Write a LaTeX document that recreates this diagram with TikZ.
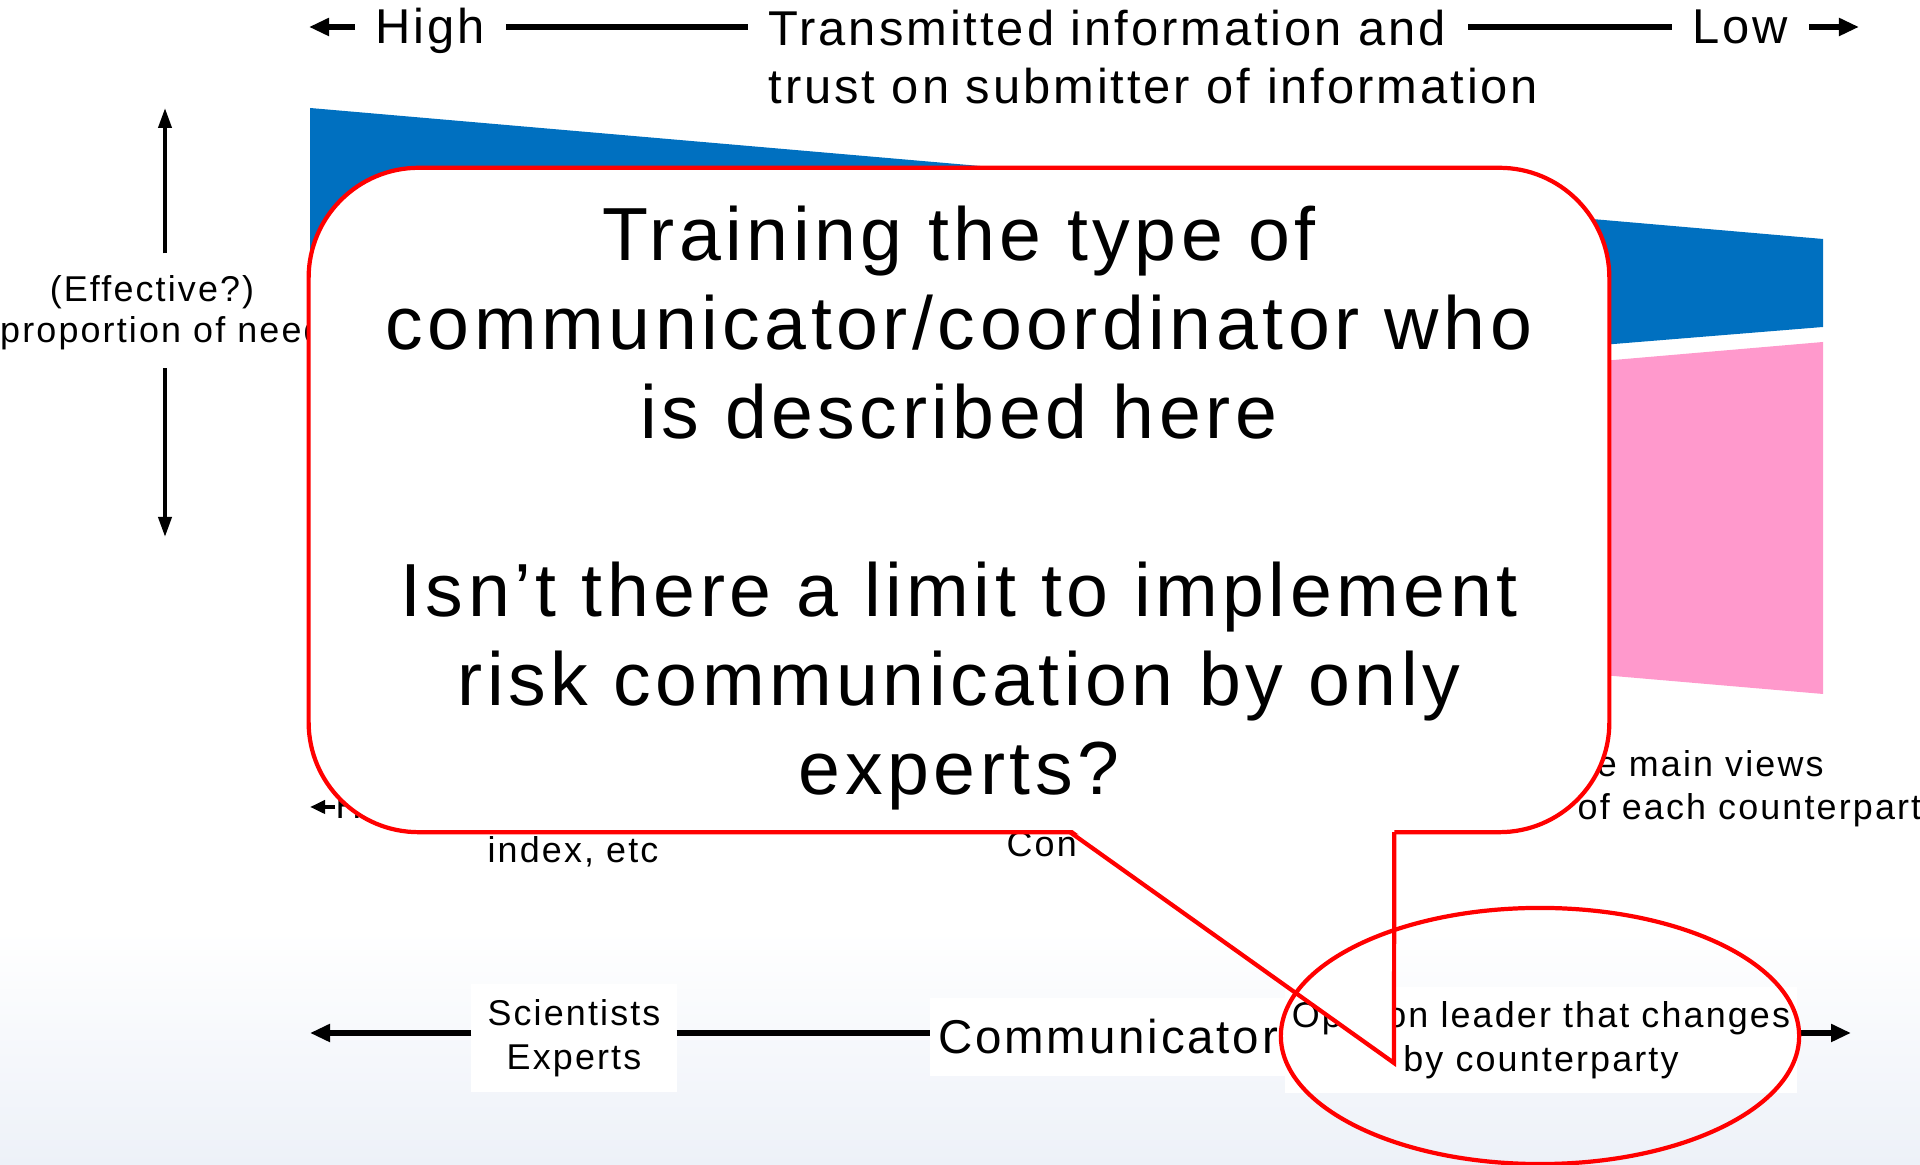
\documentclass[tikz,border=0pt]{standalone}
\usepackage{fontspec}
\setmainfont{Liberation Sans}[LetterSpace=6]
\usetikzlibrary{arrows.meta,shapes.geometric}
\definecolor{needblue}{RGB}{0,112,192}
\definecolor{needpink}{RGB}{255,153,204}
\definecolor{floor}{RGB}{237,241,248}
\definecolor{callred}{RGB}{255,0,0}
\begin{document}
\begin{tikzpicture}[x=0.01cm,y=-0.01cm,
  small/.style={font=\fontsize{10.2}{12.4}\selectfont,inner sep=0pt},
  big/.style={font=\fontsize{13.9}{16.6}\selectfont,inner sep=0pt},
  tag/.style={big,inner xsep=0.2cm},
  plate/.style={fill=white,inner sep=0pt,outer sep=0pt},
  axis/.style={line width=1.5pt},
  axisarrow/.style={line width=1.5pt,-{Triangle[length=0.2cm,width=0.17cm]}},
  midarrow/.style={line width=1.1pt,-{Triangle[length=0.15cm,width=0.13cm]}},
  needarrow/.style={line width=1.1pt,-{Triangle[length=0.2cm,width=0.13cm]}},
  bubble/.style={draw=callred,line width=1.2pt,fill=white,rounded corners=1.1cm,
    minimum width=13cm,minimum height=6.64cm,outer sep=0pt},
  ring/.style={ellipse,draw=callred,line width=1.2pt,minimum width=5.18cm,
    minimum height=2.56cm,inner sep=0pt}]
\useasboundingbox (0,0) rectangle (1920,1165);
\shade[top color=white,bottom color=floor] (0,930) rectangle (1920,1165);

\fill[needblue] (310,108) -- (1823,239) -- (1823,327) -- (310,450) -- cycle;
\fill[needpink] (310,472) -- (1823,342) -- (1823,694) -- (310,564) -- cycle;

\coordinate (toprow) at (0,27);
\coordinate (midrow) at (0,807);
\coordinate (botrow) at (0,1033);

\node[tag,anchor=base west] (high) at (355,44) {High};
\node[tag,anchor=north west,align=left] (trans) at (748,9) {Transmitted information and\\trust on submitter of information};
\node[tag,anchor=base west] (low) at (1672,44) {Low};
\coordinate (transend) at (1468,27);
\draw[axisarrow] (high.west |- toprow) -- ++(-46,0);
\draw[axis] (high.east |- toprow) -- (trans.west |- toprow);
\draw[axis] (transend) -- (low.west |- toprow);
\draw[axisarrow] (low.east |- toprow) -- ++(50,0);

\node[small,anchor=base] (effective) at (152,302) {(Effective?)};
\node[small,anchor=base] (proportion) at (172,343) {proportion of needs};
\coordinate (needtop) at (165,108);
\coordinate (needbot) at (165,537);
\draw[needarrow,shorten <=0.22cm] (effective.north -| needtop) -- (needtop);
\draw[needarrow,shorten <=0.17cm] (proportion.south -| needbot) -- (needbot);

\node[small,anchor=base west] (hazard) at (335,819) {H};
\draw[midarrow] (hazard.west |- midrow) -- ++(-25,0);
\node[small,anchor=base] (index) at (573,863) {index, etc};
\node[small,anchor=base west] (content) at (1006,857) {Con};
\node[small,anchor=base west] (views) at (1550,777) {The main views};
\node[small,anchor=base west] (counterparty) at (1577,820) {of each counterparty};

\node[small,plate,align=center,minimum width=2.05cm,minimum height=1.08cm] (experts) at (574,1038) {Scientists\\Experts};
\node[big,plate,font=\fontsize{13.5}{16.6}\selectfont,minimum width=3.55cm,minimum height=0.77cm] (communicator) at (1108,1037) {Communicator};
\node[small,plate,align=center,minimum width=5.11cm,minimum height=1.05cm] (leader) at (1541,1040) {Opinion leader that changes\\by counterparty};
\coordinate (botleft) at (310,1033);
\coordinate (botright) at (1851,1033);
\draw[axisarrow] (experts.west |- botrow) -- (botleft);
\draw[axis] (experts.east |- botrow) -- (communicator.west |- botrow);
\draw[axisarrow] (leader.east |- botrow) -- (botright);

\node[bubble] (bubble) at (959,500) {};
\coordinate (tipL) at ([xshift=1.11cm]bubble.south);
\coordinate (tipR) at ([xshift=4.35cm]bubble.south);
\coordinate (tip) at (1394,1063);
\fill[white] ([yshift=0.04cm]tipL) -- (tip) -- ([yshift=0.04cm]tipR) -- cycle;
\draw[callred,line width=1.2pt] (tipL) -- (tip) -- (tipR);
\node[font=\fontsize{21.4}{25.3}\selectfont,align=center] (question) at (959,508) {Training the type of\\communicator/coordinator who\\is described here\\[0.89cm]Isn’t there a limit to implement\\risk communication by only\\experts?};

\node[ring] (focus) at (1540,1036) {};
\end{tikzpicture}
\end{document}
